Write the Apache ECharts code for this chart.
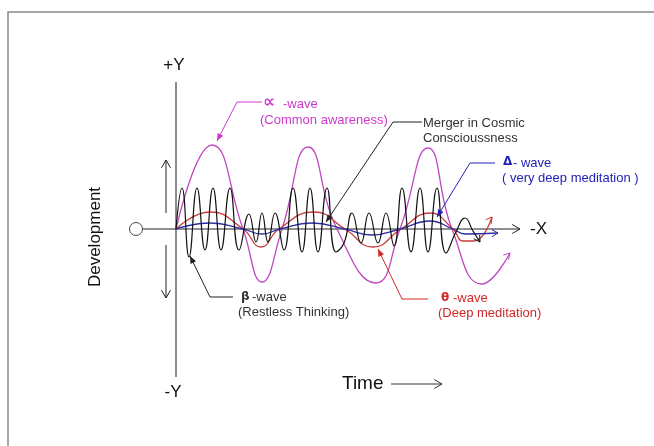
<!DOCTYPE html>
<html><head><meta charset="utf-8">
<script src="https://cdn.jsdelivr.net/npm/echarts@6/dist/echarts.min.js"></script>
<style>html,body{margin:0;padding:0;background:#fff}#c{width:654px;height:446px}</style>
</head><body><div id="c"></div>
<script>
// time (x) and development (y); origin at the axes crossing
const alphaWave = [[0,0],[36,84],[67,0],[86,-53],[106,0],[132,82],[161,0],[200,-54],[224,0],[252,81],[276,0],[306,-55],[334,-24]];
const thetaWave = [[0,0],[34,17],[67,0],[85,-18],[103,0],[138,17],[169,0],[197,-18],[225,0],[254,16],[277,0],[287,-12],[298,-12],[316,12]];
const deltaWave = [[0,0],[34,6],[67,0],[86,-5],[104,0],[136,6],[169,0],[196,-6],[224,0],[254,8],[277,0],[289,-5],[322,-4]];
const betaWave = [[0,0],[6,41],[13,-28],[21,41],[29,-21],[37,41],[45,-21],[54,41],[63,-21],[73,15],[80,-13],[86,16],[92,-13],[99,16],[108,-21],[117,41],[126,-23],[134,41],[142,-23],[151,41],[160,-23],[168,-14],[176,16],[185,-14],[193,16],[202,-14],[210,16],[218,-17],[226,41],[235,-23],[244,41],[252,-23],[261,41],[270,-24],[280,-3],[289,11],[297,-2],[304,-13]];
const waveNames = ['α-wave','θ-wave','Δ-wave','β-wave'];
const waveColors = ['#c048c0','#c83c3c','#2c2ca8','#111111'];

const FONT = '"Liberation Sans", Arial, "DejaVu Sans", sans-serif';
const chart = echarts.init(document.getElementById('c'));
const waves = [alphaWave, thetaWave, deltaWave, betaWave];
chart.setOption({
  animation: false,
  grid: {left: 176, right: 0, top: 0, bottom: 0},
  xAxis: {type: 'value', min: 0, max: 478, show: false},
  yAxis: {type: 'value', min: -217, max: 229, show: false},
  series: waves.map((d, i) => ({
    name: waveNames[i], type: 'line', data: d, smooth: 0.5, showSymbol: false,
    z: 3 + i,
    lineStyle: {color: waveColors[i], width: i === 3 ? 1.2 : 1.3}
  }))
});

function openHead(tx, ty, ang, L, color, w) {
  const f = Math.PI / 6;
  return {type: 'polyline', z: 10, shape: {points: [
    [tx - L * Math.cos(ang - f), ty - L * Math.sin(ang - f)], [tx, ty],
    [tx - L * Math.cos(ang + f), ty - L * Math.sin(ang + f)]]},
    style: {stroke: color, lineWidth: w || 1, fill: null}};
}
function filledHead(tx, ty, ang, L, color) {
  const f = Math.PI / 8;
  return {type: 'polygon', z: 10, shape: {points: [
    [tx, ty], [tx - L * Math.cos(ang - f), ty - L * Math.sin(ang - f)],
    [tx - L * Math.cos(ang + f), ty - L * Math.sin(ang + f)]]},
    style: {fill: color}};
}
function leader(pts, color) {
  const n = pts.length, a = pts[n - 2], b = pts[n - 1];
  const ang = Math.atan2(b[1] - a[1], b[0] - a[0]);
  return [{type: 'polyline', z: 10, shape: {points: pts}, style: {stroke: color, lineWidth: 1, fill: null}},
          filledHead(b[0], b[1], ang, 8, color)];
}
function txt(x, y, s, size, color, extra) {
  return Object.assign({type: 'text', z: 12, style: {x: x, y: y, text: s, fill: color,
    font: (extra && extra.weight ? extra.weight + ' ' : '') + size + 'px ' + ((extra && extra.family) || FONT),
    align: (extra && extra.align) || 'left', verticalAlign: 'middle'}}, extra && extra.el);
}

const g = [];
// frame
g.push({type: 'polyline', shape: {points: [[8, 446], [8, 12], [654, 12]]}, style: {stroke: '#8a8a8a', lineWidth: 1.5, fill: null}});
// axes
g.push({type: 'line', z: 1, shape: {x1: 176, y1: 82, x2: 176, y2: 377}, style: {stroke: '#8c8c8c', lineWidth: 2}});
g.push({type: 'line', z: 1, shape: {x1: 143, y1: 229, x2: 520, y2: 229}, style: {stroke: '#222', lineWidth: 1}});
g.push(openHead(520, 229, 0, 9, '#222'));
g.push({type: 'circle', shape: {cx: 136, cy: 229, r: 6.5}, style: {fill: null, stroke: '#444', lineWidth: 1}});
g.push({type: 'line', shape: {x1: 166, y1: 213, x2: 166, y2: 160}, style: {stroke: '#222', lineWidth: 1}});
g.push(openHead(166, 160, -Math.PI / 2, 9, '#222'));
g.push({type: 'line', shape: {x1: 166, y1: 245, x2: 166, y2: 298}, style: {stroke: '#222', lineWidth: 1}});
g.push(openHead(166, 298, Math.PI / 2, 9, '#222'));
g.push(txt(174, 65, '+Y', 17, '#111', {align: 'center'}));
g.push(txt(173, 392, '-Y', 17, '#111', {align: 'center'}));
g.push(txt(530, 229, '-X', 17, '#111'));
g.push({type: 'text', z: 12, x: 95, y: 237, rotation: Math.PI / 2,
  style: {x: 0, y: 0, text: 'Development', fill: '#111', font: '17px ' + FONT, align: 'center', verticalAlign: 'middle'}});
g.push(txt(342, 384, 'Time', 19, '#111'));
g.push({type: 'line', shape: {x1: 391, y1: 384, x2: 442, y2: 384}, style: {stroke: '#333', lineWidth: 1}});
g.push(openHead(442, 384, 0, 9, '#333'));

// wave end arrows
waves.forEach((d, i) => {
  const n = d.length;
  const p1 = chart.convertToPixel({gridIndex: 0}, d[n - 2]);
  const p2 = chart.convertToPixel({gridIndex: 0}, d[n - 1]);
  const ang = Math.atan2(p2[1] - p1[1], p2[0] - p1[0]);
  g.push(openHead(p2[0], p2[1], ang, 7, waveColors[i]));
});

// annotations
const mag = '#cc3acc', red = '#d02828', blue = '#2222b8', dark = '#333333';
const SYM = '"DejaVu Sans", sans-serif';
g.push(...leader([[262, 102], [237, 102], [217, 141]], mag));
g.push(txt(263, 103, '∝', 17, mag, {weight: 'bold', family: SYM}));
g.push(txt(283, 104, '-wave', 13, mag));
g.push(txt(260, 120, '(Common awareness)', 13, mag));

g.push(...leader([[422, 122], [393, 122], [326, 222]], '#222'));
g.push(txt(423, 123, 'Merger in Cosmic', 13, dark));
g.push(txt(423, 138, 'Conscioussness', 13, dark));

g.push(...leader([[495, 163], [470, 163], [437, 217]], blue));
g.push(txt(503, 162, 'Δ', 12, blue, {weight: 'bold', family: SYM}));
g.push(txt(513, 163, '- wave', 13, blue));
g.push(txt(502, 178, '( very deep meditation )', 13, blue));

g.push(...leader([[233, 297], [210, 297], [190, 256]], '#222'));
g.push(txt(241, 297, 'β', 12, dark, {weight: 'bold', family: SYM}));
g.push(txt(252, 297, '-wave', 13, dark));
g.push(txt(238, 312, '(Restless Thinking)', 13, dark));

g.push(...leader([[428, 299], [402, 299], [378, 249]], red));
g.push(txt(441, 298, 'θ', 12, red, {weight: 'bold', family: SYM}));
g.push(txt(453, 298, '-wave', 13, red));
g.push(txt(438, 313, '(Deep meditation)', 13, red));

chart.setOption({graphic: {elements: g}});
</script>
</body></html>
